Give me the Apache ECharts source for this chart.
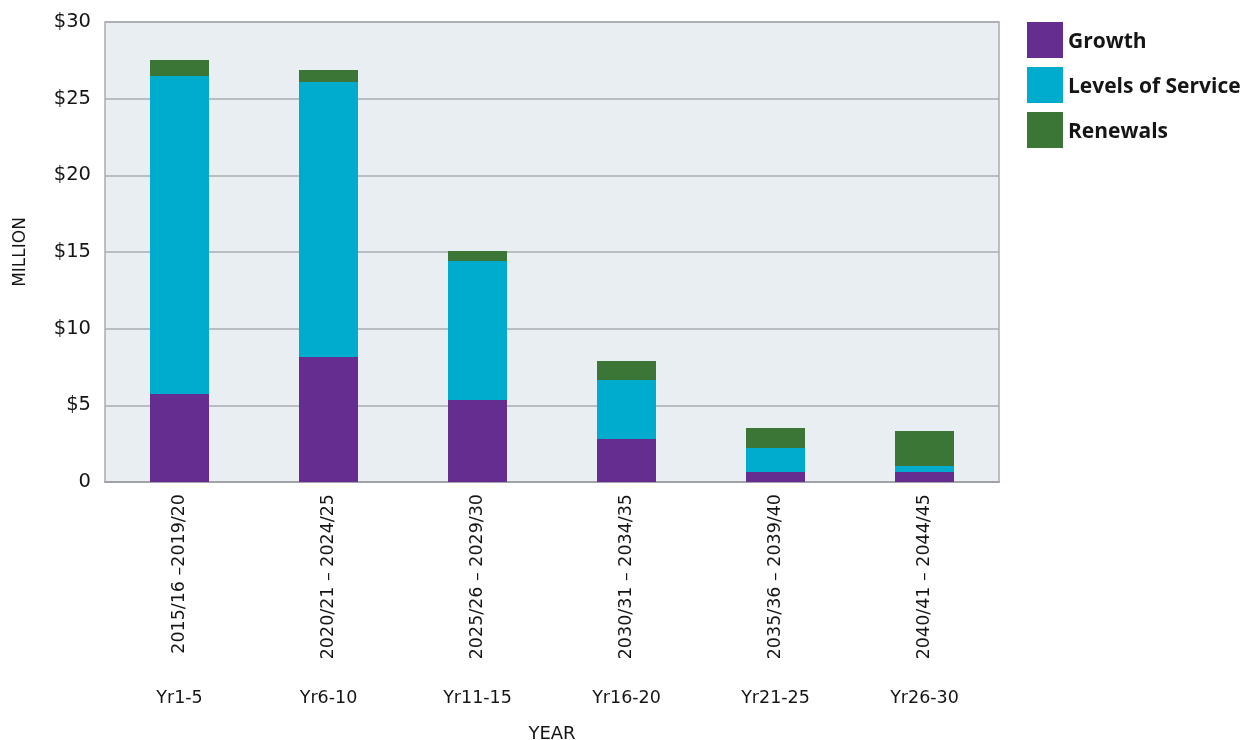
<!DOCTYPE html>
<html>
<head>
<meta charset="utf-8">
<script src="https://cdn.jsdelivr.net/npm/echarts@6/dist/echarts.min.js"></script>
<style>
  html, body { margin: 0; padding: 0; background: #ffffff; }
  #chart { width: 1254px; height: 740px; }
</style>
</head>
<body>
<div id="chart"></div>
<script>
// Capital expenditure by five-year block, $ million
const periods = ['2015/16 \u20132019/20', '2020/21 \u2013 2024/25', '2025/26 \u2013 2029/30',
                 '2030/31 \u2013 2034/35', '2035/36 \u2013 2039/40', '2040/41 \u2013 2044/45'];
const blocks = ['Yr1-5', 'Yr6-10', 'Yr11-15', 'Yr16-20', 'Yr21-25', 'Yr26-30'];
const growth = [5.74, 8.15, 5.35, 2.80, 0.65, 0.65];
const levelsOfService = [20.74, 17.94, 9.07, 3.85, 1.57, 0.39];
const renewals = [1.04, 0.78, 0.65, 1.24, 1.30, 2.29];

const axisFont = '"DejaVu Sans", sans-serif';
const gridGrey = '#a9acb1';
const ink = '#151515';

const chart = echarts.init(document.getElementById('chart'));

function stack(name, data, color) {
  return {
    name: name,
    type: 'bar',
    stack: 'total',
    barWidth: 59,
    data: data,
    itemStyle: { color: color },
    emphasis: { disabled: true }
  };
}

chart.setOption({
  animation: false,
  grid: {
    left: 105, right: 255, top: 22, bottom: 258,
    outerBoundsMode: 'none',
    containLabel: false,
    show: true,
    backgroundColor: '#e9eef3',
    borderColor: gridGrey,
    borderWidth: 1.5
  },
  legend: {
    orient: 'vertical',
    left: 1027, top: 22,
    padding: 0,
    itemWidth: 36, itemHeight: 36, itemGap: 9,
    icon: 'rect',
    formatter: name => '{t|' + name + '}',
    textStyle: {
      color: ink,
      rich: {
        t: { fontFamily: '"Open Sans", sans-serif', fontWeight: 'bold', fontSize: 21, color: ink, padding: [4, 0, 0, 0] }
      }
    },
    data: ['Growth', 'Levels of Service', 'Renewals']
  },
  xAxis: [
    {
      type: 'category',
      data: periods,
      axisLine: { lineStyle: { color: '#9fa2a7', width: 2 } },
      axisTick: { inside: true, length: 12, lineStyle: { color: '#9fa2a7', width: 2 } },
      axisLabel: { rotate: 90, margin: 12, fontFamily: axisFont, fontSize: 17.5, color: ink }
    },
    {
      type: 'category',
      position: 'bottom',
      data: blocks,
      axisLine: { show: false },
      axisTick: { show: false },
      axisLabel: { margin: 207, fontFamily: axisFont, fontSize: 17.5, color: ink },
      name: 'YEAR',
      nameLocation: 'middle',
      nameGap: 243,
      nameTextStyle: { fontFamily: axisFont, fontSize: 18, color: ink }
    }
  ],
  yAxis: {
    type: 'value',
    min: 0, max: 30, interval: 5,
    axisLine: { show: false },
    axisTick: { show: false },
    splitLine: { lineStyle: { color: gridGrey, width: 1.5 } },
    axisLabel: {
      margin: 14,
      fontFamily: axisFont, fontSize: 19.5, color: ink,
      formatter: v => (v === 0 ? '0' : '$' + v)
    },
    name: 'MILLION',
    nameLocation: 'middle',
    nameGap: 76,
    nameTextStyle: { fontFamily: axisFont, fontSize: 17, color: ink }
  },
  series: [
    stack('Growth', growth, '#652d90'),
    stack('Levels of Service', levelsOfService, '#00acce'),
    stack('Renewals', renewals, '#3b7636')
  ]
});
</script>
</body>
</html>
